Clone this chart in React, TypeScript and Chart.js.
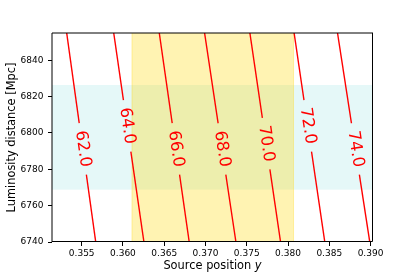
import React, { useEffect, useRef } from "react";
import { Chart, registerables } from "chart.js";

Chart.register(...registerables);

// ---- data ----
const contourLevels = [62, 64, 66, 68, 70, 72, 74];
const contourTopX = [0.35318, 0.35888, 0.3644, 0.36989, 0.37538, 0.38074, 0.386];
const contourBottomX = [0.3567, 0.36254, 0.36803, 0.37369, 0.3791, 0.38446, 0.38991];
const contourLabelY = [6791.2, 6803.9, 6791.2, 6791.2, 6794.1, 6803.9, 6791.2];
const lineTopY = 6855;
const lineBottomY = 6740;
const xRange = [0.3514, 0.3903];
const yRange = [6740, 6855];
const xTicks = [0.355, 0.36, 0.365, 0.37, 0.375, 0.38, 0.385, 0.39];
const yTicks = [6740, 6760, 6780, 6800, 6820, 6840];
const sourceBand = [0.36109, 0.38067];
const distanceBand = [6768.8, 6826.4];

const FONT = "'DejaVu Sans', 'Liberation Sans', sans-serif";
const LABEL_PX = 16.5;
const GAP_HALF = 26;

function labelGeom(chart: any, i: number) {
  const xs = chart.scales.x;
  const ys = chart.scales.y;
  const x0 = xs.getPixelForValue(contourTopX[i]);
  const y0 = ys.getPixelForValue(lineTopY);
  const x1 = xs.getPixelForValue(contourBottomX[i]);
  const y1 = ys.getPixelForValue(lineBottomY);
  const cy = ys.getPixelForValue(contourLabelY[i]);
  const t = (cy - y0) / (y1 - y0);
  const cx = x0 + t * (x1 - x0);
  const ang = Math.atan2(y1 - y0, x1 - x0);
  return { cx, cy, ang };
}

const contourPlugin = {
  id: "contourDecor",
  beforeDatasetsDraw(chart: any) {
    const { ctx, chartArea: a, scales } = chart;
    const xs = scales.x;
    const ys = scales.y;
    ctx.save();
    // horizontal cyan band
    const yb0 = ys.getPixelForValue(distanceBand[1]);
    const yb1 = ys.getPixelForValue(distanceBand[0]);
    ctx.fillStyle = "rgba(0,191,191,0.1)";
    ctx.fillRect(a.left, yb0, a.right - a.left, yb1 - yb0);
    // vertical yellow band
    const xb0 = xs.getPixelForValue(sourceBand[0]);
    const xb1 = xs.getPixelForValue(sourceBand[1]);
    ctx.fillStyle = "rgba(255,215,0,0.3)";
    ctx.fillRect(xb0, a.top, xb1 - xb0, a.bottom - a.top);
    ctx.strokeStyle = "rgba(255,215,0,0.3)";
    ctx.lineWidth = 1;
    ctx.beginPath();
    ctx.moveTo(xb0, a.top);
    ctx.lineTo(xb0, a.bottom);
    ctx.moveTo(xb1, a.top);
    ctx.lineTo(xb1, a.bottom);
    ctx.stroke();
    ctx.restore();
  },
  beforeDatasetDraw(chart: any, args: any) {
    const { ctx } = chart;
    const { cx, cy, ang } = labelGeom(chart, args.index);
    const ux = Math.cos(ang);
    const uy = Math.sin(ang);
    const vx = -uy;
    const vy = ux;
    const W = 8;
    ctx.save();
    ctx.beginPath();
    ctx.rect(0, 0, chart.width, chart.height);
    ctx.moveTo(cx - GAP_HALF * ux - W * vx, cy - GAP_HALF * uy - W * vy);
    ctx.lineTo(cx + GAP_HALF * ux - W * vx, cy + GAP_HALF * uy - W * vy);
    ctx.lineTo(cx + GAP_HALF * ux + W * vx, cy + GAP_HALF * uy + W * vy);
    ctx.lineTo(cx - GAP_HALF * ux + W * vx, cy - GAP_HALF * uy + W * vy);
    ctx.closePath();
    ctx.clip("evenodd");
  },
  afterDatasetDraw(chart: any) {
    chart.ctx.restore();
  },
  afterDatasetsDraw(chart: any) {
    const { ctx } = chart;
    contourLevels.forEach((lv, i) => {
      const { cx, cy, ang } = labelGeom(chart, i);
      ctx.save();
      ctx.translate(cx, cy);
      ctx.rotate(ang);
      ctx.font = `${LABEL_PX}px ${FONT}`;
      ctx.fillStyle = "#ff0000";
      ctx.textAlign = "center";
      ctx.textBaseline = "middle";
      ctx.fillText(lv.toFixed(1), 0, 0);
      ctx.restore();
    });
  },
  afterDraw(chart: any) {
    const { ctx, chartArea: a } = chart;
    ctx.save();
    ctx.strokeStyle = "#000";
    ctx.lineWidth = 1;
    ctx.beginPath();
    // left & top (unaligned, soft grey like reference)
    ctx.moveTo(a.left, a.bottom);
    ctx.lineTo(a.left, a.top);
    ctx.lineTo(a.right, a.top);
    ctx.stroke();
    ctx.beginPath();
    ctx.moveTo(a.right - 0.5, a.top);
    ctx.lineTo(a.right - 0.5, a.bottom - 0.5);
    ctx.lineTo(a.left, a.bottom - 0.5);
    ctx.stroke();
    // x axis title with italic y
    const part1 = "Source position ";
    const part2 = "y";
    const size = 11.4;
    ctx.font = `${size}px ${FONT}`;
    const w1 = ctx.measureText(part1).width;
    ctx.font = `italic ${size}px ${FONT}`;
    const w2 = ctx.measureText(part2).width;
    const cxm = (a.left + a.right) / 2;
    const start = cxm - (w1 + w2) / 2;
    ctx.fillStyle = "#000";
    ctx.textBaseline = "middle";
    ctx.textAlign = "left";
    ctx.font = `${size}px ${FONT}`;
    ctx.fillText(part1, start, 266.5);
    ctx.font = `italic ${size}px ${FONT}`;
    ctx.fillText(part2, start + w1, 266.5);
    ctx.restore();
  },
};

export default function App() {
  const ref = useRef<HTMLCanvasElement>(null);
  useEffect(() => {
    const datasets = contourLevels.map((lv, i) => ({
      label: lv.toFixed(1),
      data: [
        { x: contourTopX[i], y: lineTopY },
        { x: contourBottomX[i], y: lineBottomY },
      ],
      showLine: true,
      borderColor: "#ff0000",
      borderWidth: 1.4,
      pointRadius: 0,
      fill: false,
    }));
    const chart = new Chart(ref.current as HTMLCanvasElement, {
      type: "scatter",
      data: { datasets },
      plugins: [contourPlugin],
      options: {
        animation: false,
        responsive: false,
        devicePixelRatio: 1,
        layout: { padding: { left: 0, top: 33, right: 42, bottom: 0 } },
        plugins: {
          legend: { display: false },
          tooltip: { enabled: false },
        },
        scales: {
          x: {
            type: "linear",
            min: xRange[0],
            max: xRange[1],
            afterBuildTicks: (s: any) => {
              s.ticks = xTicks.map((v) => ({ value: v }));
            },
            afterFit: (s: any) => {
              s.height = 35;
            },
            grid: {
              display: true,
              drawOnChartArea: false,
              drawTicks: true,
              tickLength: 4,
              tickColor: "#000",
              tickWidth: 1,
            },
            border: { display: false },
            ticks: {
              autoSkip: false,
              maxRotation: 0,
              minRotation: 0,
              padding: 2,
              color: "#000",
              font: { family: FONT, size: 9 },
              callback: (v: any) => Number(v).toFixed(3),
            },
            title: { display: false },
          },
          y: {
            type: "linear",
            min: yRange[0],
            max: yRange[1],
            afterBuildTicks: (s: any) => {
              s.ticks = yTicks.map((v) => ({ value: v }));
            },
            afterFit: (s: any) => {
              s.width = 52;
            },
            grid: {
              display: true,
              drawOnChartArea: false,
              drawTicks: true,
              tickLength: 4,
              tickColor: "#000",
              tickWidth: 1,
            },
            border: { display: false },
            ticks: {
              autoSkip: false,
              padding: 4.5,
              color: "#000",
              font: { family: FONT, size: 9 },
              callback: (v: any) => String(Math.round(Number(v))),
            },
            title: {
              display: true,
              text: "Luminosity distance [Mpc]",
              color: "#000",
              font: { family: FONT, size: 11.4 },
              padding: { top: 5, bottom: 0 },
            },
          },
        },
      },
    } as any);
    return () => chart.destroy();
  }, []);
  return (
    <div style={{ position: "fixed", left: 0, top: 0, width: 415, height: 277, background: "#fff" }}>
      <canvas ref={ref} width={415} height={277} style={{ display: "block", width: 415, height: 277 }} />
    </div>
  );
}
